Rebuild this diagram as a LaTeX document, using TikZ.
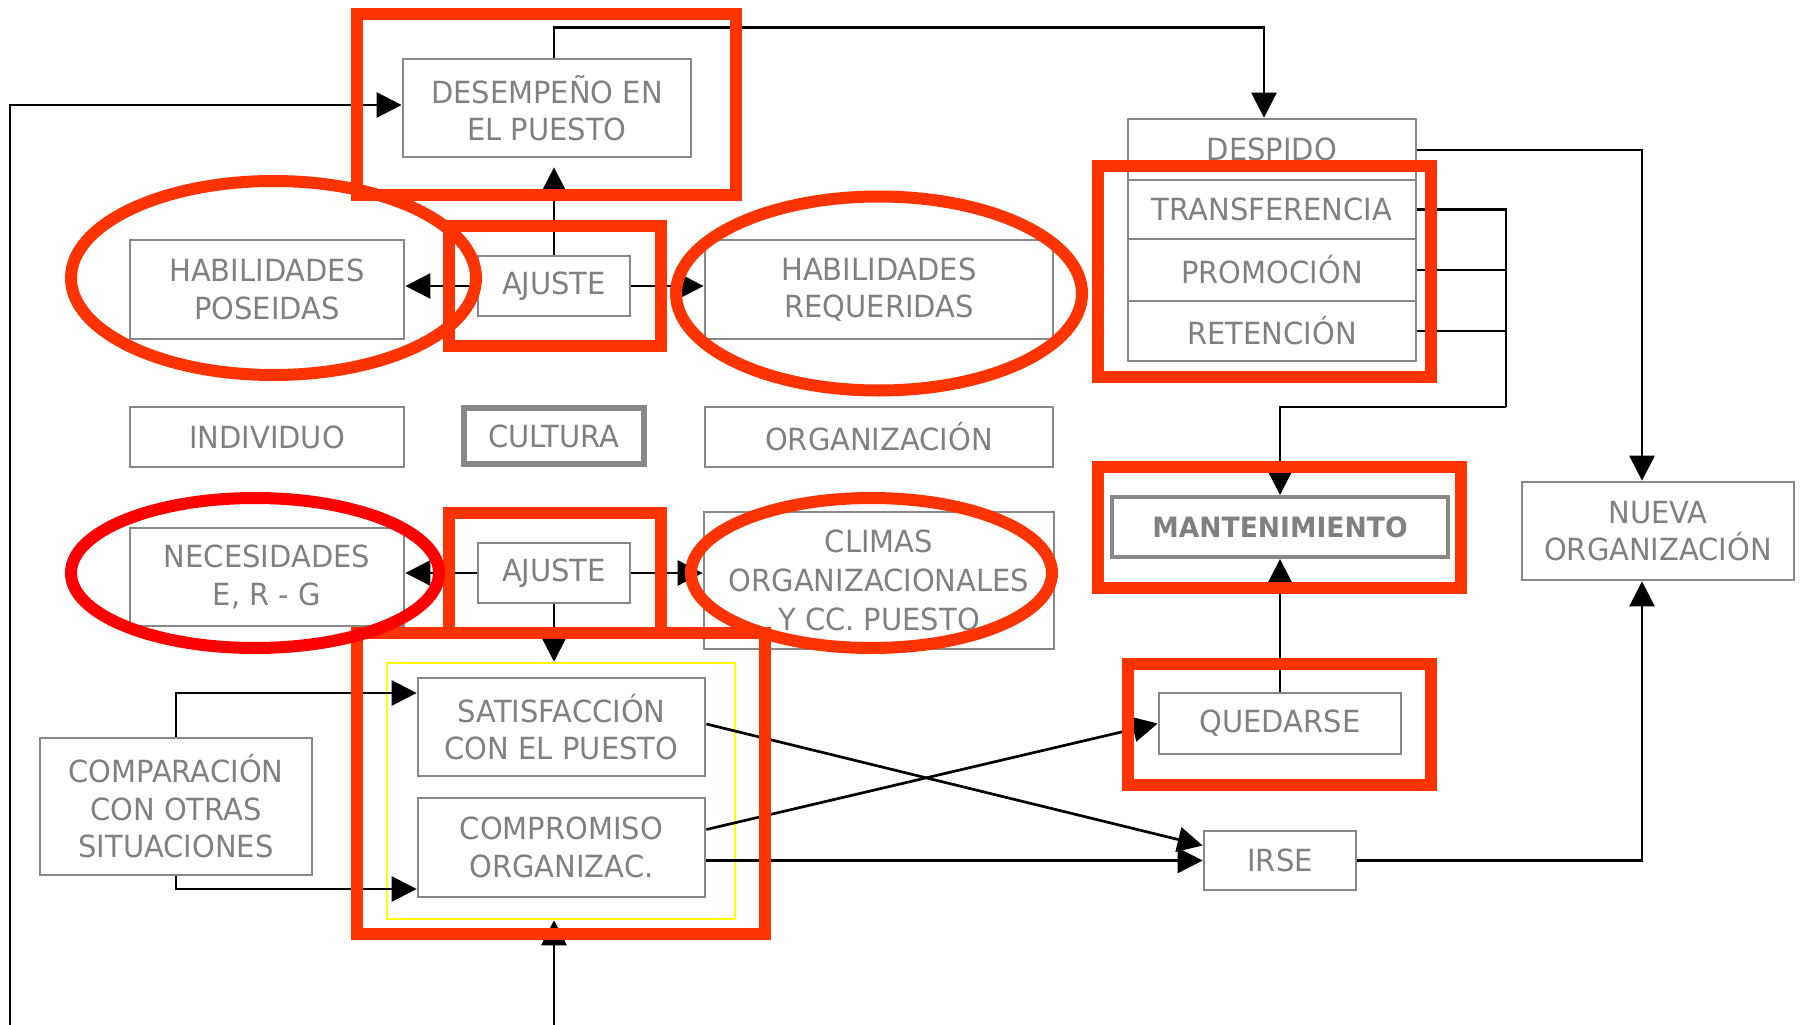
\documentclass[tikz,border=0pt]{standalone}
\usepackage{fontspec}
\setmainfont{DejaVu Sans}[FakeStretch=0.95]
\usetikzlibrary{arrows.meta}
\definecolor{redo}{HTML}{FF3300}
\definecolor{redp}{HTML}{FF0000}
\definecolor{bgray}{HTML}{888888}
\definecolor{tgray}{HTML}{808080}
\definecolor{yel}{HTML}{FFFF00}
\begin{document}
\begin{tikzpicture}[x=1pt,y=-1pt,
  box/.style={rectangle, draw=bgray, line width=2.7pt, text=tgray, align=center,
    inner sep=0pt, font=\fontsize{30.5}{37.5}\selectfont},
  wh/.style 2 args={minimum width=#1pt, minimum height=#2pt},
  conn/.style={line width=2.7pt, -{Triangle[length=25pt,width=25pt]}},
  wire/.style={line width=2.7pt},
  hl/.style={draw=redo, line width=12pt},
  hlp/.style={draw=redp, line width=12pt},
]
\useasboundingbox (0,0) rectangle (1800,1025);

% ---- boxes
\node[box, wh={288}{98}] (desemp) at (547,108) {DESEMPEÑO EN\\EL PUESTO};
\node[box, wh={274}{99}] (pos) at (267,289.5) {HABILIDADES\\POSEIDAS};
\node[box, wh={152}{60}] (ajuste1) at (554,286) {AJUSTE};
\node[box, wh={348}{99}] (req) at (879,289.5) {HABILIDADES\\REQUERIDAS};
\node[box, wh={274}{60}] (indiv) at (267,437) {INDIVIDUO};
\node[box, wh={180}{56}, line width=6pt] (cultura) at (554,436) {CULTURA};
\node[box, wh={348}{60}] (organiz) at (879,437) {ORGANIZACIÓN};
\node[box, wh={274}{98}] (nec) at (267,577) {NECESIDADES\\E, R - G};
\node[box, wh={152}{60}] (ajuste2) at (554,573) {AJUSTE};
\node[box, wh={350}{137}, font=\fontsize{30.5}{39}\selectfont] (climas) at (879,580.5) {CLIMAS\\ORGANIZACIONALES\\Y CC. PUESTO};
\node[rectangle, draw=yel, line width=2.5pt, wh={348}{256}] (grp) at (561,791) {};
\node[box, wh={287}{98}] (satisf) at (561.5,727) {SATISFACCIÓN\\CON EL PUESTO};
\node[box, wh={287}{99}] (comprom) at (561.5,847.5) {COMPROMISO\\ORGANIZAC.};
\node[box, wh={272}{137}] (compar) at (176,806.5) {COMPARACIÓN\\CON OTRAS\\SITUACIONES};
\node[box, wh={288}{61}] (despido) at (1272,149.5) {DESPIDO};
\node[box, wh={288}{59}] (transf) at (1272,209.5) {TRANSFERENCIA};
\node[box, wh={288}{62}] (promo) at (1272,270) {PROMOCIÓN};
\node[box, wh={288}{60}] (reten) at (1272,331) {RETENCIÓN};
\node[box, wh={336}{60}, line width=4pt, font=\fontsize{28}{33}\selectfont\bfseries] (mant) at (1280,527) {MANTENIMIENTO};
\node[box, wh={272}{98}] (nueva) at (1658,531) {NUEVA\\ORGANIZACIÓN};
\node[box, wh={242}{61}] (quedarse) at (1280,723.5) {QUEDARSE};
\node[box, wh={152}{59}] (irse) at (1280,860.5) {IRSE};

% ---- connectors
\coordinate (loopA) at (10,1030);
\coordinate (botIn) at (554,1030);
\coordinate (jn) at (1506,407);
\draw[conn] (loopA) |- ([yshift=3pt]desemp.west);
\draw[conn] (ajuste1.north |- desemp.north) -- ++(0,-30) -| ([xshift=-8pt]despido.north);
\draw[conn, shorten >=9pt] (ajuste1.north) -- (ajuste1.north |- desemp.south);
\draw[conn] (ajuste1.west) -- (ajuste1.west -| pos.east);
\draw[conn] (ajuste1.east) -- (ajuste1.east -| req.west);
\draw[conn] (ajuste2.west) -- (ajuste2.west -| nec.east);
\draw[conn] (ajuste2.east) -- (ajuste2.east -| climas.west);
\draw[conn] (ajuste2.south) -- (ajuste2.south |- grp.north);
\draw[conn] (botIn) -- (botIn |- grp.south);
\draw[conn] (compar.north) |- ([yshift=34pt]satisf.west);
\draw[conn] (compar.south) |- ([yshift=-41.5pt]comprom.west);
\draw[conn] ([yshift=3pt]satisf.east) -- ([yshift=15pt]irse.west);
\draw[conn] ([yshift=18pt]comprom.east) -- (quedarse.west);
\draw[conn] (comprom.east |- irse.west) -- (irse.west);
\draw[conn] (quedarse.north) -- (mant.south);
\draw[wire] (transf.east) -| (jn);
\draw[wire] (promo.east) -- (promo.east -| jn);
\draw[wire] (reten.east) -- (reten.east -| jn);
\draw[conn] (jn) -| (mant.north);
\draw[conn] ([yshift=-0.5pt]despido.east) -| ([xshift=-16pt]nueva.north);
\draw[conn] (irse.east) -| ([xshift=-16pt]nueva.south);

% ---- highlights
\draw[hl] (357,14) rectangle (736,195);
\draw[hl] (449,226) rectangle (660.5,346);
\draw[hl] (449,513) rectangle (660.5,633);
\draw[hl] (357,633) rectangle (765,934);
\draw[hl] (1098,165.5) rectangle (1431,376.5);
\draw[hl] (1098,467) rectangle (1461,588);
\draw[hl] (1128,664) rectangle (1431,785);
\draw[hl] (273.5,278) ellipse [x radius=202.5pt, y radius=97pt];
\draw[hl] (879,293.5) ellipse [x radius=203pt, y radius=97pt];
\draw[hlp] (255,573) ellipse [x radius=184pt, y radius=75pt];
\draw[hl] (871.5,573) ellipse [x radius=180.5pt, y radius=75pt];
\end{tikzpicture}
\end{document}
